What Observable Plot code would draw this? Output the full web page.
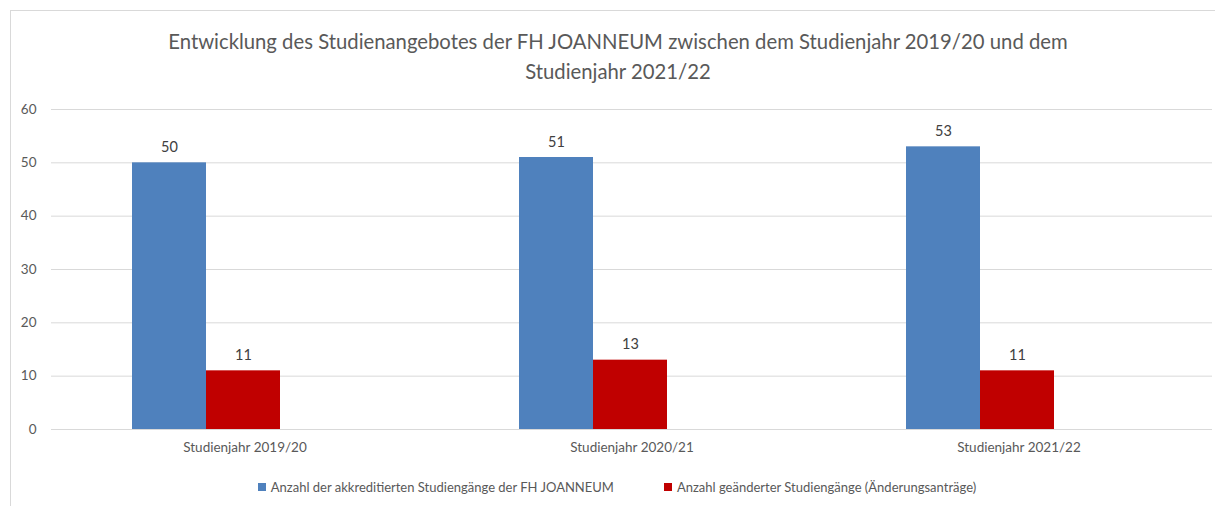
<!DOCTYPE html>
<html>
<head>
<meta charset="utf-8">
<script src="https://cdn.jsdelivr.net/npm/d3@7"></script>
<script src="https://cdn.jsdelivr.net/npm/@observablehq/plot@0.6"></script>
<style>
  html, body { margin: 0; padding: 0; background: #fff; }
  #wrap { position: relative; width: 1215px; height: 506px; overflow: hidden; font-family: Lato, "Open Sans", sans-serif; }
  #frame { position: absolute; left: 10px; top: 10px; width: 1220px; height: 520px; border: 1px solid #d9d9d9; box-sizing: border-box; }
  #title { position: absolute; left: 10px; width: 1216px; top: 26px; text-align: center; font-size: 20.3px; line-height: 30px; color: #595959; }
  #chart { position: absolute; left: 0; top: 90px; }
  #legend { position: absolute; left: 0; width: 1234px; top: 478px; text-align: center; font-size: 13px; color: #595959; white-space: nowrap; }
  #legend .item { display: inline-flex; align-items: center; margin: 0 25px; }
  #legend .sw { width: 8px; height: 8px; margin-right: 5px; display: inline-block; }
</style>
</head>
<body>
<div id="wrap">
  <div id="frame"></div>
  <div id="title">Entwicklung des Studienangebotes der FH JOANNEUM zwischen dem Studienjahr 2019/20 und dem<br>Studienjahr 2021/22</div>
  <div id="chart"></div>
  <div id="legend"></div>
</div>
<script>
const years = ["Studienjahr 2019/20", "Studienjahr 2020/21", "Studienjahr 2021/22"];
const seriesNames = ["Anzahl der akkreditierten Studiengänge der FH JOANNEUM", "Anzahl geänderter Studiengänge (Änderungsanträge)"];
const akkreditiert = [50, 51, 53];
const geaendert = [11, 13, 11];
const colors = ["#4f81bd", "#c00000"];
const yTicks = [0, 10, 20, 30, 40, 50, 60];

const rows = [];
years.forEach((yr, i) => {
  rows.push({year: yr, series: seriesNames[0], value: akkreditiert[i]});
  rows.push({year: yr, series: seriesNames[1], value: geaendert[i]});
});

const chart = Plot.plot({
  width: 1215,
  height: 380,
  marginLeft: 50,
  marginRight: 3,
  marginTop: 19,
  marginBottom: 41,
  style: {fontFamily: "Lato, 'Open Sans', sans-serif", background: "transparent"},
  fx: {domain: years, padding: 0, label: null, axis: "bottom", tickSize: 0, tickPadding: 13},
  x: {domain: seriesNames, paddingInner: 0, paddingOuter: 1.584, align: 0.34, axis: null},
  y: {domain: [0, 60], ticks: yTicks, label: null, tickSize: 0, tickPadding: 15},
  color: {domain: seriesNames, range: colors},
  marks: [
    Plot.ruleY(yTicks, {stroke: "#d9d9d9", strokeWidth: 1}),
    Plot.barY(rows, {fx: "year", x: "series", y: "value", fill: "series"}),
    Plot.text(rows, {fx: "year", x: "series", y: "value", text: d => String(d.value), lineAnchor: "bottom", dy: -11, fontSize: 14.5, fill: "#404040"})
  ]
});
chart.querySelectorAll("g[aria-label$='axis tick label']").forEach(g => { g.setAttribute("font-size", "13.5"); g.setAttribute("fill", "#595959"); g.style.fontSize = "13.5px"; });
document.getElementById("chart").appendChild(chart);

const legend = document.getElementById("legend");
seriesNames.forEach((s, i) => {
  const item = document.createElement("span");
  item.className = "item";
  const sw = document.createElement("span");
  sw.className = "sw";
  sw.style.background = colors[i];
  item.appendChild(sw);
  item.appendChild(document.createTextNode(s));
  legend.appendChild(item);
});
</script>
</body>
</html>
